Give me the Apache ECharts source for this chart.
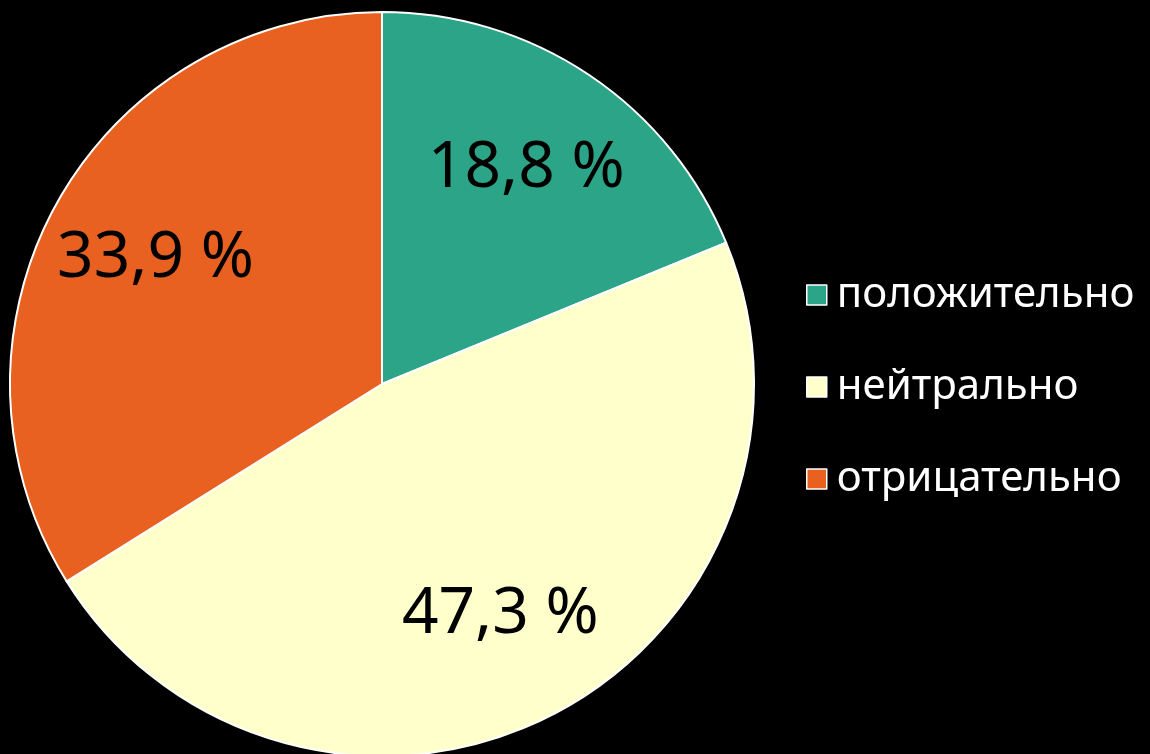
<!DOCTYPE html>
<html>
<head>
<meta charset="utf-8">
<script src="https://cdn.jsdelivr.net/npm/echarts@6/dist/echarts.min.js"></script>
<style>
  html, body { margin: 0; padding: 0; background: #000; }
  #chart { width: 1150px; height: 754px; }
</style>
</head>
<body>
<div id="chart"></div>
<script>
// категории и доли (%)
const categories = ["положительно", "нейтрально", "отрицательно"];
const values = [18.8, 47.3, 33.9];
const colors = ["#2ca487", "#ffffcc", "#e86121"];

const pieData = categories.map((name, i) => ({
  name: name,
  value: values[i],
  itemStyle: { color: colors[i] },
}));

const chart = echarts.init(document.getElementById("chart"));
const fontFamily = "'Noto Sans', 'DejaVu Sans', sans-serif";

chart.setOption({
  backgroundColor: "#000",
  animation: false,
  legend: {
    orient: "vertical",
    left: 801,
    top: 268,
    itemWidth: 20,
    itemHeight: 20,
    itemGap: 48,
    icon: "rect",
    itemStyle: { borderColor: "#fff", borderWidth: 1.5 },
    textStyle: {
      color: "#fff",
      fontSize: 42,
      lineHeight: 44,
      fontFamily: fontFamily,
      padding: [0, 0, 0, 5],
    },
    data: categories,
  },
  series: [
    {
      // основной круг
      type: "pie",
      center: [382, 384],
      radius: [0, 372],
      startAngle: 90,
      clockwise: true,
      silent: true,
      label: { show: false },
      labelLine: { show: false },
      itemStyle: { borderColor: "#fff", borderWidth: 2 },
      data: pieData,
    },
    {
      // подписи (прозрачное кольцо для позиции подписей)
      type: "pie",
      center: [382, 384],
      radius: [140, 372],
      startAngle: 90,
      clockwise: true,
      silent: true,
      itemStyle: { color: "transparent", borderWidth: 0 },
      label: {
        show: true,
        position: "inside",
        color: "#000",
        fontSize: 64,
        fontFamily: fontFamily,
        formatter: (p) => String(p.value).replace(".", ",") + " %",
      },
      labelLine: { show: false },
      data: categories.map((name, i) => ({ name: name, value: values[i] })),
    },
  ],
});
</script>
</body>
</html>
